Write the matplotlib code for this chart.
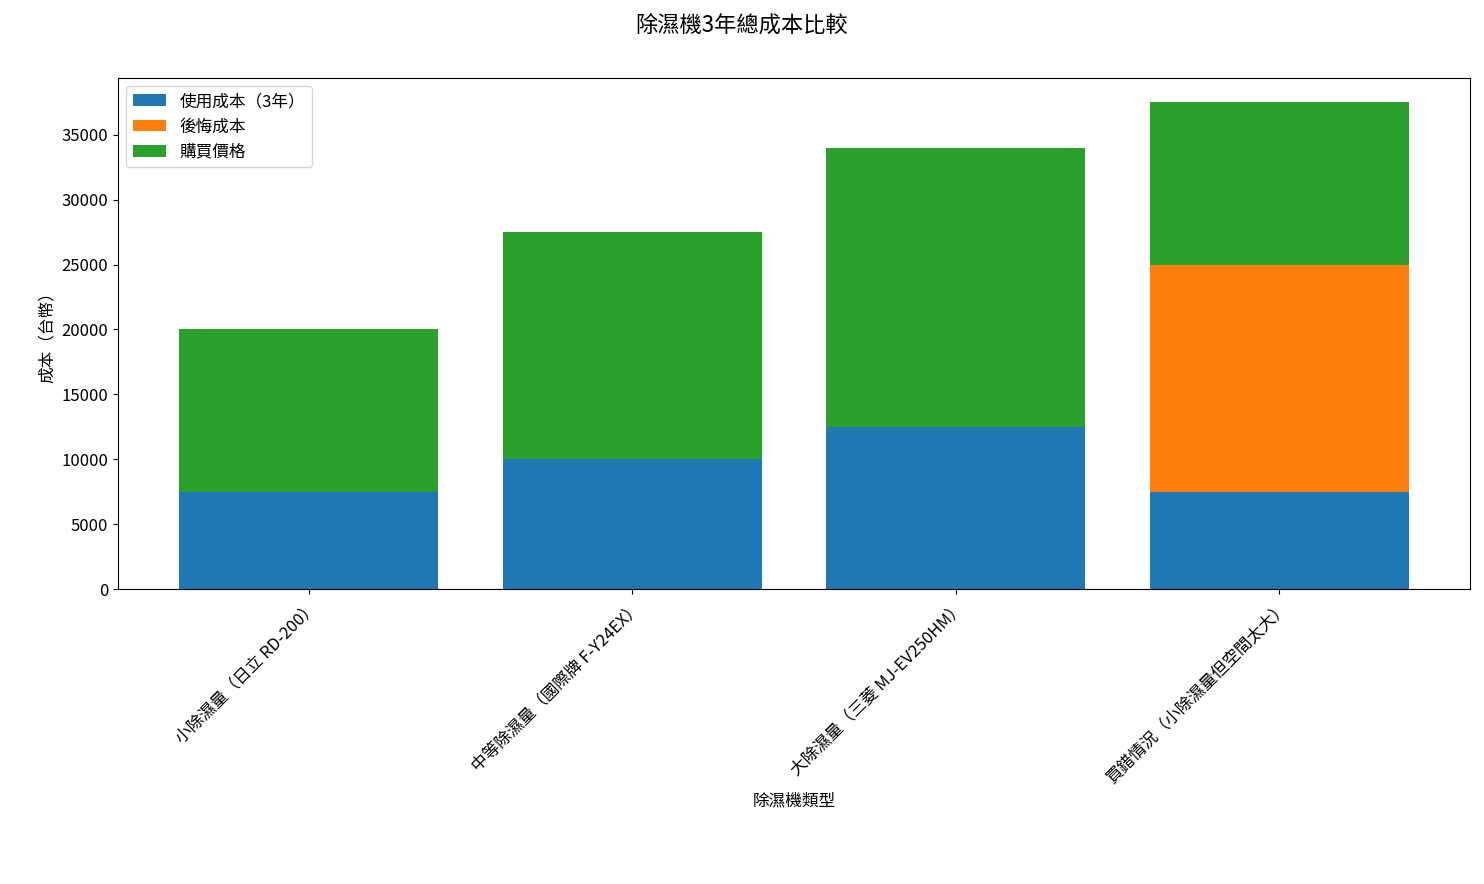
import matplotlib
matplotlib.use("Agg")
import matplotlib.pyplot as plt
import numpy as np

plt.rcParams['font.family'] = ['Noto Sans CJK TC', 'DejaVu Sans']

categories = ["小除濕量（日立 RD-200）", "中等除濕量（國際牌 F-Y24EX）",
              "大除濕量（三菱 MJ-EV250HM）", "買錯情況（小除濕量但空間太大）"]
usage_cost = [7500, 10000, 12500, 7500]
regret_cost = [0, 0, 0, 17500]
purchase_price = [12500, 17500, 21500, 12500]

fig = plt.figure(figsize=(14.84, 8.84), dpi=100)
ax = fig.add_axes([118/1484, 1-589/884, (1470-118)/1484, (589-78)/884])
x = np.arange(len(categories))
u = np.array(usage_cost); r = np.array(regret_cost); p = np.array(purchase_price)
ax.bar(x, u, color='#1f77b4', label='使用成本（3年）')
ax.bar(x, r, bottom=u, color='#ff7f0e', label='後悔成本')
ax.bar(x, p, bottom=u+r, color='#2ca02c', label='購買價格')
ax.set_xticks(x)
ax.set_xticklabels(categories, rotation=45, ha='right', rotation_mode='anchor', fontsize=12)
ax.tick_params(axis='y', labelsize=12)
ax.set_xlabel('除濕機類型', fontsize=12)
ax.set_ylabel('成本（台幣）', fontsize=12)
fig.suptitle('除濕機3年總成本比較', fontsize=16, y=0.985)
ax.legend(loc='upper left', fontsize=12)
fig.savefig('out.png', dpi=100)
